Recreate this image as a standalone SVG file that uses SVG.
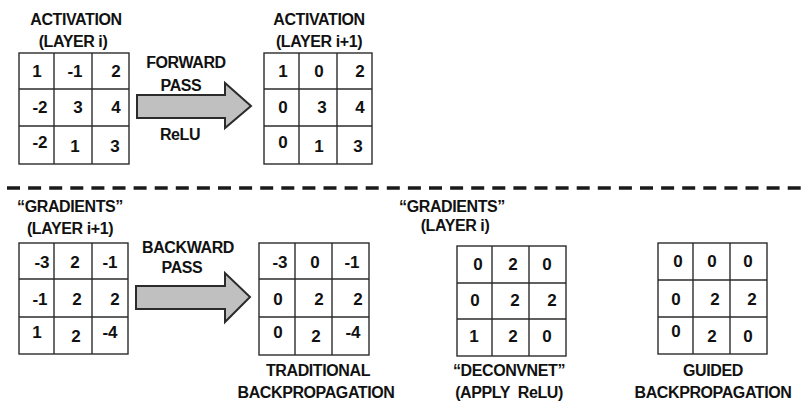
<svg xmlns="http://www.w3.org/2000/svg" width="803" height="403" viewBox="0 0 803 403">
<style>
text{font-family:"Liberation Sans",Arial,sans-serif;font-weight:bold;font-size:16px;letter-spacing:-0.4px;fill:#111;text-anchor:middle}
.n{font-size:17px;letter-spacing:0}
.grid rect{fill:#fff;stroke:#2b2b2b;stroke-width:1.4}
.grid line{stroke:#2b2b2b;stroke-width:1.4}
.arrow{fill:#c0c0c0;stroke:#2b2b2b;stroke-width:2;stroke-linejoin:miter}
</style>
<rect width="803" height="403" fill="#fff"/>

<g id="label-act-i">
<text x="76" y="25">ACTIVATION</text>
<text x="73" y="47">(LAYER i)</text>
</g>
<g id="grid-act-i" class="grid">
<rect x="19" y="53" width="110" height="111"/>
<line x1="54" y1="53" x2="54" y2="164"/><line x1="92" y1="53" x2="92" y2="164"/>
<line x1="19" y1="89" x2="129" y2="89"/><line x1="19" y1="126" x2="129" y2="126"/>
<text class="n" x="37" y="77">1</text><text class="n" x="75" y="77">-1</text><text class="n" x="116" y="77">2</text>
<text class="n" x="40" y="113">-2</text><text class="n" x="78" y="113">3</text><text class="n" x="116" y="113">4</text>
<text class="n" x="40" y="148">-2</text><text class="n" x="75" y="152">1</text><text class="n" x="115" y="152">3</text>
</g>

<g id="label-act-i1">
<text x="319" y="25">ACTIVATION</text>
<text x="319" y="47">(LAYER i+1)</text>
</g>
<g id="grid-act-i1" class="grid">
<rect x="264" y="53" width="108" height="111"/>
<line x1="299" y1="53" x2="299" y2="164"/><line x1="337" y1="53" x2="337" y2="164"/>
<line x1="264" y1="89" x2="372" y2="89"/><line x1="264" y1="126" x2="372" y2="126"/>
<text class="n" x="283" y="77">1</text><text class="n" x="319" y="77">0</text><text class="n" x="360" y="77">2</text>
<text class="n" x="283" y="113">0</text><text class="n" x="322" y="113">3</text><text class="n" x="360" y="113">4</text>
<text class="n" x="283" y="148">0</text><text class="n" x="319" y="152">1</text><text class="n" x="358" y="152">3</text>
</g>

<g id="connectors">
<g id="forward-arrow">
<polygon class="arrow" points="137,95 225,95 225,83 251,106 225,128 225,118 137,118"/>
<text x="186" y="68">FORWARD</text>
<text x="181" y="91">PASS</text>
<text x="180" y="140">ReLU</text>
</g>
<g id="backward-arrow">
<polygon class="arrow" points="136,286 225,286 225,273 250,297 225,322 225,309 136,309"/>
<text x="188" y="253">BACKWARD</text>
<text x="182" y="273">PASS</text>
</g>
</g>

<line id="divider" x1="7" y1="188" x2="803" y2="188" stroke="#1a1a1a" stroke-width="3.5" stroke-dasharray="13 8.1"/>

<g id="label-grad-i1">
<text x="70" y="212">“GRADIENTS”</text>
<text x="70" y="234">(LAYER i+1)</text>
</g>
<g id="grid-grad-i1" class="grid">
<rect x="19" y="243" width="109" height="111"/>
<line x1="54" y1="243" x2="54" y2="354"/><line x1="92" y1="243" x2="92" y2="354"/>
<line x1="19" y1="279" x2="128" y2="279"/><line x1="19" y1="317" x2="128" y2="317"/>
<text class="n" x="42" y="268">-3</text><text class="n" x="75" y="268">2</text><text class="n" x="110" y="268">-1</text>
<text class="n" x="40" y="305">-1</text><text class="n" x="77" y="305">2</text><text class="n" x="115" y="305">2</text>
<text class="n" x="37" y="338">1</text><text class="n" x="76" y="342">2</text><text class="n" x="110" y="338">-4</text>
</g>

<g id="grid-traditional" class="grid">
<rect x="259" y="243" width="110" height="112"/>
<line x1="295" y1="243" x2="295" y2="355"/><line x1="332" y1="243" x2="332" y2="355"/>
<line x1="259" y1="279" x2="369" y2="279"/><line x1="259" y1="317" x2="369" y2="317"/>
<text class="n" x="280" y="268">-3</text><text class="n" x="315" y="268">0</text><text class="n" x="352" y="268">-1</text>
<text class="n" x="278" y="305">0</text><text class="n" x="319" y="305">2</text><text class="n" x="358" y="305">2</text>
<text class="n" x="278" y="338">0</text><text class="n" x="316" y="342">2</text><text class="n" x="353" y="338">-4</text>
</g>
<g id="label-traditional">
<text x="318" y="376">TRADITIONAL</text>
<text x="316" y="398">BACKPROPAGATION</text>
</g>

<g id="label-grad-i">
<text x="452" y="212">“GRADIENTS”</text>
<text x="455" y="231">(LAYER i)</text>
</g>
<g id="grid-deconvnet" class="grid">
<rect x="457" y="246" width="109" height="110"/>
<line x1="492" y1="246" x2="492" y2="356"/><line x1="529" y1="246" x2="529" y2="356"/>
<line x1="457" y1="283" x2="566" y2="283"/><line x1="457" y1="319" x2="566" y2="319"/>
<text class="n" x="478" y="270">0</text><text class="n" x="513" y="270">2</text><text class="n" x="547" y="270">0</text>
<text class="n" x="475" y="306">0</text><text class="n" x="515" y="306">2</text><text class="n" x="552" y="306">2</text>
<text class="n" x="474" y="342">1</text><text class="n" x="513" y="342">2</text><text class="n" x="547" y="342">0</text>
</g>
<g id="label-deconvnet">
<text x="509" y="376">“DECONVNET”</text>
<text x="509" y="398" xml:space="preserve">(APPLY  ReLU)</text>
</g>

<g id="grid-guided" class="grid">
<rect x="658" y="243" width="109" height="111"/>
<line x1="693" y1="243" x2="693" y2="354"/><line x1="730" y1="243" x2="730" y2="354"/>
<line x1="658" y1="280" x2="767" y2="280"/><line x1="658" y1="317" x2="767" y2="317"/>
<text class="n" x="678" y="267">0</text><text class="n" x="712" y="267">0</text><text class="n" x="748" y="267">0</text>
<text class="n" x="676" y="305">0</text><text class="n" x="715" y="305">2</text><text class="n" x="752" y="305">2</text>
<text class="n" x="676" y="337">0</text><text class="n" x="712" y="342">2</text><text class="n" x="748" y="342">0</text>
</g>
<g id="label-guided">
<text x="713" y="376">GUIDED</text>
<text x="713" y="398">BACKPROPAGATION</text>
</g>
</svg>
